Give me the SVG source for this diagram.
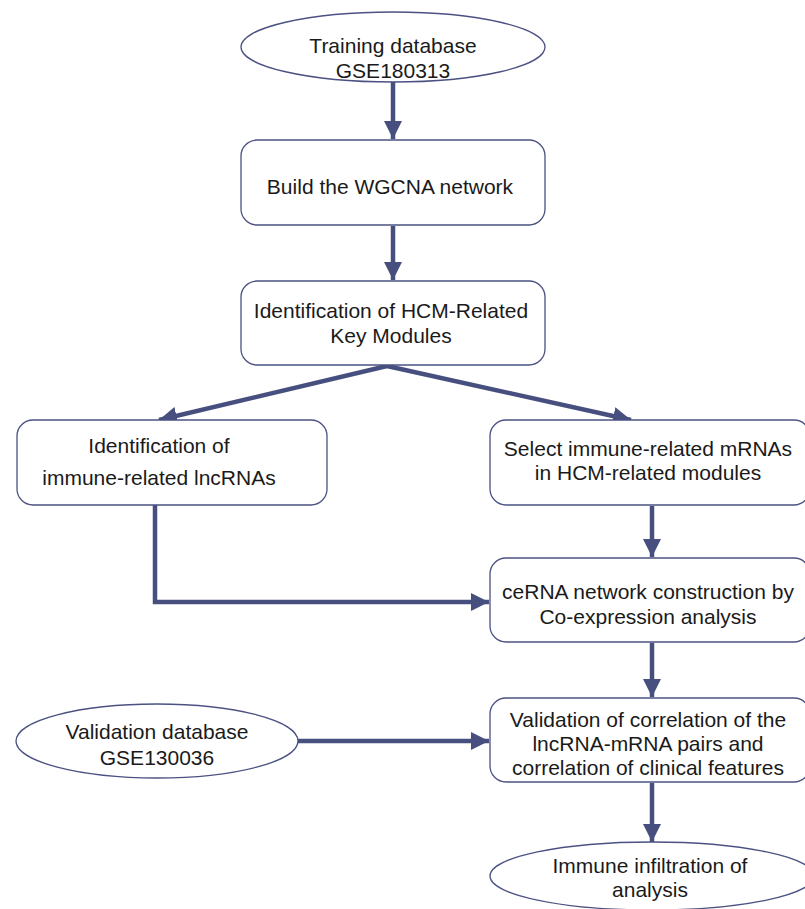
<svg xmlns="http://www.w3.org/2000/svg" width="805" height="909" viewBox="0 0 805 909">
<style>
.n{fill:#fff;stroke:#4b5182;stroke-width:1.3}
.t{font-family:"Liberation Sans",Arial,sans-serif;font-size:21px;fill:#1a1a1a;text-anchor:middle}
.c{fill:none;stroke:#474f7f;stroke-width:4.5}
</style>
<defs>
<marker id="ah" viewBox="0 0 10 10" refX="10" refY="5" markerWidth="4" markerHeight="4" orient="auto" markerUnits="strokeWidth">
<path d="M0,0 L10,5 L0,10 z" fill="#474f7f"/>
</marker>
</defs>
<rect width="805" height="909" fill="#fff"/>
<g id="connectors">
<line class="c" x1="393" y1="82" x2="393" y2="139" marker-end="url(#ah)"/>
<line class="c" x1="393" y1="226" x2="393" y2="280" marker-end="url(#ah)"/>
<line class="c" x1="387" y1="366" x2="159" y2="420" marker-end="url(#ah)"/>
<line class="c" x1="387" y1="366" x2="631" y2="420" marker-end="url(#ah)"/>
<polyline class="c" points="155,505 155,602 489,602" marker-end="url(#ah)"/>
<line class="c" x1="652" y1="506" x2="652" y2="557" marker-end="url(#ah)"/>
<line class="c" x1="652" y1="643" x2="652" y2="697" marker-end="url(#ah)"/>
<line class="c" x1="298" y1="741" x2="489" y2="741" marker-end="url(#ah)"/>
<line class="c" x1="652" y1="783" x2="652" y2="842" marker-end="url(#ah)"/>
</g>
<g id="n1"><ellipse class="n" cx="393" cy="47" rx="152" ry="35"/>
<text class="t" x="393" y="53">Training database</text><text class="t" x="393" y="78">GSE180313</text></g>
<g id="n2"><rect class="n" x="241" y="140" width="304" height="85" rx="16"/>
<text class="t" x="390" y="194">Build the WGCNA network</text></g>
<g id="n3"><rect class="n" x="241" y="281" width="304" height="84" rx="16"/>
<text class="t" x="391" y="318">Identification of HCM-Related</text><text class="t" x="391" y="343">Key Modules</text></g>
<g id="n4"><rect class="n" x="17" y="420" width="310" height="85" rx="16"/>
<text class="t" x="159" y="453">Identification of</text><text class="t" x="159" y="485">immune-related lncRNAs</text></g>
<g id="n5"><rect class="n" x="490" y="420" width="320" height="85" rx="16"/>
<text class="t" x="648" y="456">Select immune-related mRNAs</text><text class="t" x="648" y="480">in HCM-related modules</text></g>
<g id="n6"><rect class="n" x="490" y="558" width="320" height="84" rx="16"/>
<text class="t" x="648" y="599">ceRNA network construction by</text><text class="t" x="648" y="624">Co-expression analysis</text></g>
<g id="n7"><ellipse class="n" cx="157" cy="741" rx="141" ry="37"/>
<text class="t" x="157" y="739">Validation database</text><text class="t" x="157" y="765">GSE130036</text></g>
<g id="n8"><rect class="n" x="490" y="698" width="320" height="84" rx="16"/>
<text class="t" x="648" y="727">Validation of correlation of the</text><text class="t" x="648" y="751">lncRNA-mRNA pairs and</text><text class="t" x="648" y="775">correlation of clinical features</text></g>
<g id="n9"><ellipse class="n" cx="652" cy="876" rx="162" ry="34"/>
<text class="t" x="650" y="873">Immune infiltration of</text><text class="t" x="650" y="897">analysis</text></g>
</svg>
